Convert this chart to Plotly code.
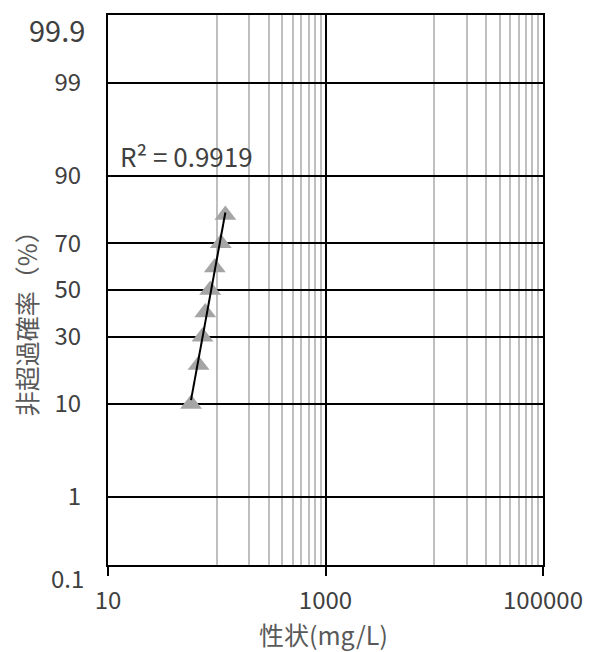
import numpy as np
import plotly.graph_objects as go
from statistics import NormalDist

# Measured concentrations (mg/L) and their non-exceedance probabilities (%)
conc = [58, 68, 74, 78.38, 87, 96, 109, 120]
prob = [10, 20, 30, 40, 50, 60, 70, 80]

# Probability axis ticks (%)
prob_ticks = [1, 10, 30, 50, 70, 90, 99]
prob_edge_top = 99.9
prob_edge_bottom = 0.1

# Log concentration axis ticks
x_ticks = [10, 1000, 100000]
x_tick_text = ["10", "1000", "100000"]
x_minor = [100, 200, 300, 400, 500, 600, 700, 800, 900,
           10000, 20000, 30000, 40000, 50000, 60000, 70000, 80000, 90000]

nd = NormalDist()


def z(p):
    return nd.inv_cdf(p / 100.0)


zs = [z(p) for p in prob]
lx = np.log10(conc)
slope, intercept = np.polyfit(lx, zs, 1)
pred = slope * lx + intercept
r2 = 1 - np.sum((np.array(zs) - pred) ** 2) / np.sum((np.array(zs) - np.mean(zs)) ** 2)

fit_x = np.array([min(conc), max(conc)])
fit_z = slope * np.log10(fit_x) + intercept

zmin, zmax = z(prob_edge_bottom), z(prob_edge_top)

FONT = "Noto Sans CJK JP"
TICK = "#404040"
TITLE = "#595959"

fig = go.Figure()
fig.add_trace(go.Scatter(
    x=conc, y=zs, mode="markers",
    marker=dict(symbol="triangle-up", size=19, color="#A5A5A5", line=dict(width=0)),
    showlegend=False,
))
fig.add_trace(go.Scatter(
    x=fit_x, y=fit_z, mode="lines",
    line=dict(color="black", width=2),
    showlegend=False,
))

fig.update_xaxes(
    type="log", range=[1, 5],
    tickvals=x_ticks, ticktext=x_tick_text,
    ticks="outside", ticklen=9, tickwidth=2, tickcolor="black",
    ticklabelstandoff=4,
    tickfont=dict(family=FONT, size=24, color=TICK),
    showgrid=True, gridcolor="black", gridwidth=2,
    minor=dict(tickvals=x_minor, showgrid=True, gridcolor="#BFBFBF", gridwidth=2, ticks=""),
    showline=True, linecolor="black", linewidth=2, mirror=True,
    zeroline=False,
)
fig.update_yaxes(
    range=[zmin, zmax],
    tickvals=[z(p) for p in prob_ticks], ticktext=[str(p) for p in prob_ticks],
    ticks="", ticklabelstandoff=20,
    tickfont=dict(family=FONT, size=24, color=TICK),
    showgrid=True, gridcolor="black", gridwidth=2,
    showline=True, linecolor="black", linewidth=2, mirror=True,
    zeroline=False,
)

annotations = [
    dict(text="99.9", x=0, xref="paper", xanchor="right", xshift=-21,
         y=zmax, yref="y", yanchor="middle", yshift=-14,
         showarrow=False, font=dict(family=FONT, size=29, color=TICK)),
    dict(text="0.1", x=0, xref="paper", xanchor="right", xshift=-22,
         y=zmin, yref="y", yanchor="middle", yshift=-12,
         showarrow=False, font=dict(family=FONT, size=24, color=TICK)),
    dict(text="R² = %.4f" % r2, x=np.log10(12.3), xref="x", xanchor="left",
         y=z(93.4), yref="y", yanchor="middle",
         showarrow=False, font=dict(family=FONT, size=26, color=TICK)),
    dict(text="非超過確率（%）", x=0, xref="paper", xanchor="center", xshift=-82,
         y=z(38), yref="y", yanchor="middle", textangle=-90,
         showarrow=False, font=dict(family=FONT, size=25, color=TITLE)),
    dict(text="性状(mg/L)", x=0.495, xref="paper", xanchor="center",
         y=0, yref="paper", yanchor="middle", yshift=-69,
         showarrow=False, font=dict(family=FONT, size=25, color=TITLE)),
]

fig.update_layout(
    width=595, height=652,
    margin=dict(l=108, r=49, t=15, b=87),
    paper_bgcolor="white", plot_bgcolor="white",
    annotations=annotations,
)

fig.write_html("out.html")
